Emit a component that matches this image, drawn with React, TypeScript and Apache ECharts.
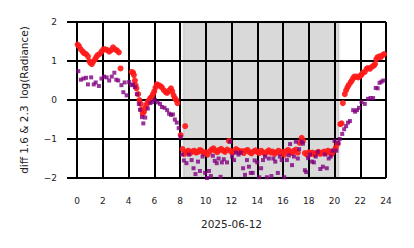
import React, { useEffect, useRef } from "react";
import * as echarts from "echarts";

const dateLabel = "2025-06-12";
const yAxisLabel = "diff 1.6 & 2.3  log(Radiance)";
const nightBand = [8.25, 20.35];

// [hour, value] for the red series (diff 2.3)
const redDay1: number[][] = [
  [0.05, 1.42], [0.15, 1.38], [0.3, 1.3], [0.45, 1.24], [0.55, 1.2], [0.7, 1.18], [0.85, 1.12],
  [0.95, 1.0], [1.05, 0.95], [1.15, 0.92], [1.25, 0.98], [1.4, 1.04], [1.5, 1.1], [1.6, 1.15],
  [1.75, 1.18], [1.9, 1.24], [2.05, 1.3], [2.2, 1.3], [2.35, 1.28], [2.5, 1.24], [2.65, 1.28],
  [2.8, 1.35], [2.95, 1.3], [3.1, 1.27], [3.25, 1.22], [3.38, 0.81],
  [4.25, 0.72], [4.35, 0.7], [4.42, 0.64], [4.5, 0.5], [4.55, 0.38], [4.62, 0.3],
  [4.75, 0.15], [4.85, 0.0], [4.95, -0.1], [5.0, -0.25], [5.1, -0.35], [5.2, -0.3],
  [5.3, -0.2], [5.4, -0.12], [5.5, -0.05], [5.6, 0.0], [5.7, 0.05], [5.8, 0.08], [5.9, 0.15],
  [6.0, 0.22], [6.1, 0.32], [6.2, 0.4], [6.35, 0.38], [6.5, 0.35], [6.6, 0.32], [6.75, 0.25],
  [6.9, 0.2], [7.0, 0.18], [7.15, 0.24], [7.3, 0.3], [7.4, 0.22], [7.5, 0.12], [7.6, 0.05],
  [7.7, 0.0], [7.8, -0.08], [8.05, -0.9], [8.4, -0.67],
];
const redNight: number[][] = [
  [8.2, -1.26], [8.35, -1.38], [8.5, -1.33], [8.65, -1.3], [8.8, -1.36], [8.95, -1.32], [9.1, -1.3],
  [9.25, -1.35], [9.4, -1.33], [9.55, -1.28], [9.7, -1.31], [9.85, -1.37], [10.0, -1.34], [10.15, -1.4],
  [10.3, -1.32], [10.45, -1.27], [10.6, -1.24], [10.75, -1.3], [10.9, -1.34], [11.05, -1.28],
  [11.2, -1.25], [11.35, -1.3], [11.5, -1.33], [11.65, -1.27], [11.8, -1.05], [11.9, -1.3],
  [12.05, -1.35], [12.2, -1.32], [12.35, -1.26], [12.5, -1.29], [12.65, -1.33], [12.8, -1.31],
  [12.95, -1.36], [13.1, -1.3], [13.25, -1.28], [13.4, -1.34], [13.55, -1.37], [13.7, -1.32],
  [13.85, -1.29], [14.0, -1.33], [14.15, -1.36], [14.3, -1.3], [14.45, -1.34], [14.6, -1.38],
  [14.75, -1.33], [14.9, -1.29], [15.05, -1.35], [15.2, -1.32], [15.35, -1.38], [15.5, -1.34],
  [15.65, -1.3], [15.8, -1.36], [15.95, -1.33], [16.1, -1.4], [16.25, -1.31], [16.4, -1.28],
  [16.55, -1.33], [16.7, -1.36], [16.85, -1.3], [17.0, -1.27], [17.15, -1.35], [17.3, -1.1],
  [17.45, -0.97], [17.55, -1.05], [17.7, -1.36], [17.85, -1.4], [18.0, -1.34], [18.15, -1.38],
  [18.3, -1.35], [18.45, -1.4], [18.6, -1.36], [18.75, -1.33], [18.9, -1.38], [19.05, -1.35],
  [19.2, -1.32], [19.35, -1.36], [19.5, -1.3], [19.65, -1.34], [19.8, -1.38], [19.95, -1.3],
  [20.1, -1.22], [20.25, -1.12],
];
const redDay2: number[][] = [
  [20.45, -0.62], [20.55, -0.6], [20.65, -0.08], [20.8, 0.15], [20.9, 0.25], [21.0, 0.32],
  [21.1, 0.38], [21.25, 0.45], [21.35, 0.5], [21.45, 0.56], [21.55, 0.6], [21.7, 0.6], [21.85, 0.58],
  [22.0, 0.62], [22.1, 0.65], [22.2, 0.7], [22.35, 0.72], [22.5, 0.8], [22.6, 0.82], [22.75, 0.8],
  [22.9, 0.85], [23.05, 0.88], [23.15, 0.92], [23.25, 1.05], [23.35, 1.1], [23.5, 1.12],
  [23.6, 1.1], [23.75, 1.15], [23.85, 1.18],
];

// [hour, value] for the purple series (diff 1.6)
const purpleDay1: number[][] = [
  [0.1, 0.74], [0.3, 0.52], [0.5, 0.55], [0.7, 0.57], [0.85, 0.4], [1.1, 0.58], [1.3, 0.4],
  [1.45, 0.45], [1.7, 0.36], [1.9, 0.55], [2.1, 0.6], [2.3, 0.58], [2.5, 0.5], [2.7, 0.6],
  [2.9, 0.7], [3.05, 0.52], [3.2, 0.5], [3.45, 0.38], [3.6, 0.2], [3.7, 0.45], [3.85, 0.12],
  [4.05, 0.46], [4.2, 0.38], [4.35, 0.4], [4.5, 0.33], [4.65, 0.15], [4.8, -0.1], [4.9, -0.25],
  [5.05, -0.44], [5.15, -0.6], [5.3, -0.45], [5.5, -0.22], [5.7, -0.08], [5.85, -0.05],
  [6.05, 0.0], [6.25, -0.06], [6.45, -0.1], [6.6, -0.18], [6.8, -0.2], [7.0, -0.26],
  [7.15, -0.35], [7.3, -0.38], [7.45, -0.37], [7.6, -0.5], [7.75, -0.58], [7.9, -0.72],
  [8.05, -0.95], [8.15, -1.4],
];
const purpleNight: number[][] = [
  [8.3, -1.55], [8.5, -1.62], [8.7, -1.4], [8.9, -1.54], [9.05, -1.75], [9.2, -1.9], [9.4, -1.58],
  [9.55, -1.82], [9.75, -1.45], [9.95, -1.87], [10.1, -2.0], [10.25, -1.82], [10.4, -1.95],
  [10.55, -1.43], [10.7, -1.56], [10.85, -1.62], [11.0, -1.5], [11.15, -1.97], [11.25, -1.6],
  [11.4, -1.52], [11.65, -1.6], [11.9, -1.07], [12.05, -1.45], [12.2, -1.54], [12.35, -1.35],
  [12.55, -1.4], [12.7, -1.35], [12.9, -1.75], [13.05, -1.92], [13.2, -1.54], [13.35, -1.71],
  [13.5, -1.87], [13.65, -1.87], [13.8, -1.55], [14.0, -1.6], [14.15, -1.98], [14.3, -1.75],
  [14.45, -1.54], [14.6, -1.45], [14.75, -1.98], [14.9, -1.5], [15.1, -1.95], [15.25, -1.5],
  [15.4, -1.58], [15.6, -1.87], [15.75, -1.45], [15.9, -1.54], [16.1, -1.98], [16.3, -1.54],
  [16.45, -1.42], [16.55, -1.13], [16.7, -1.67], [16.85, -1.45], [17.0, -1.07], [17.15, -1.5],
  [17.25, -1.26], [17.45, -1.07], [17.55, -1.12], [17.7, -1.8], [17.8, -1.85], [17.95, -1.49],
  [18.1, -1.4], [18.25, -1.58], [18.4, -1.6], [18.55, -1.45], [18.7, -1.33], [18.9, -1.77],
  [19.1, -1.71], [19.25, -1.4], [19.4, -1.75], [19.55, -1.5], [19.7, -1.45], [19.85, -1.3],
  [20.0, -1.05], [20.15, -1.3],
];
const purpleDay2: number[][] = [
  [20.3, -1.1], [20.4, -1.0], [20.6, -0.87], [20.75, -0.75], [20.9, -0.67], [21.05, -0.58],
  [21.2, -0.54], [21.45, -0.26], [21.6, -0.3], [21.75, -0.26], [21.9, -0.2], [22.1, -0.05],
  [22.35, -0.1], [22.6, 0.03], [22.8, 0.05], [23.0, 0.05], [23.2, 0.31], [23.35, 0.3],
  [23.5, 0.44], [23.65, 0.47], [23.8, 0.5],
];

const FONT = "DejaVu Sans";
const TXT = "#222222";

export default function App() {
  const ref = useRef<HTMLDivElement>(null);
  useEffect(() => {
    if (!ref.current) return;
    const chart = echarts.init(ref.current, undefined, { renderer: "svg" });
    const minus = (v: number) => (v < 0 ? "\u2212" + Math.abs(v) : String(v));
    chart.setOption({
      animation: false,
      backgroundColor: "#ffffff",
      grid: { left: 77, right: 28, top: 22, bottom: 70 },
      xAxis: {
        type: "value",
        min: 0,
        max: 24,
        interval: 2,
        name: dateLabel,
        nameLocation: "middle",
        nameGap: 40,
        nameTextStyle: { fontFamily: FONT, fontSize: 10.5, color: TXT },
        axisLine: { show: true, lineStyle: { color: "#000", width: 2 } },
        axisTick: { show: true, length: 8, lineStyle: { color: "#000", width: 2 } },
        axisLabel: { fontFamily: FONT, fontSize: 9, color: TXT, margin: 18 },
        splitLine: { show: true, lineStyle: { color: "#000", width: 2 } },
      },
      yAxis: {
        type: "value",
        min: -2,
        max: 2,
        interval: 1,
        name: yAxisLabel,
        nameLocation: "middle",
        nameGap: 48,
        nameTextStyle: { fontFamily: FONT, fontSize: 10.5, color: TXT },
        axisLine: { show: true, lineStyle: { color: "#000", width: 2 } },
        axisTick: { show: true, length: 10, lineStyle: { color: "#000", width: 2 } },
        axisLabel: { fontFamily: FONT, fontSize: 9, color: TXT, margin: 20, formatter: minus },
        splitLine: { show: true, lineStyle: { color: "#000", width: 2 } },
      },
      series: [
        {
          type: "scatter",
          name: "2.3",
          data: [...redDay1, ...redNight, ...redDay2],
          symbol: "circle",
          symbolSize: 6,
          itemStyle: { color: "#ff1a1a", opacity: 0.92 },
          markArea: {
            silent: true,
            itemStyle: {
              color: "rgba(0,0,0,0.15)",
              borderColor: "rgba(0,0,0,0.06)",
              borderWidth: 3,
            },
            data: [[{ xAxis: nightBand[0] }, { xAxis: nightBand[1] }]],
          },
        },
        {
          type: "scatter",
          name: "1.6",
          data: [...purpleDay1, ...purpleNight, ...purpleDay2],
          symbol: "rect",
          symbolSize: 4,
          itemStyle: { color: "#800080" },
        },
      ],
    });
    return () => chart.dispose();
  }, []);
  return (
    <div
      ref={ref}
      style={{ position: "fixed", left: 0, top: 0, width: 414, height: 248 }}
    />
  );
}
